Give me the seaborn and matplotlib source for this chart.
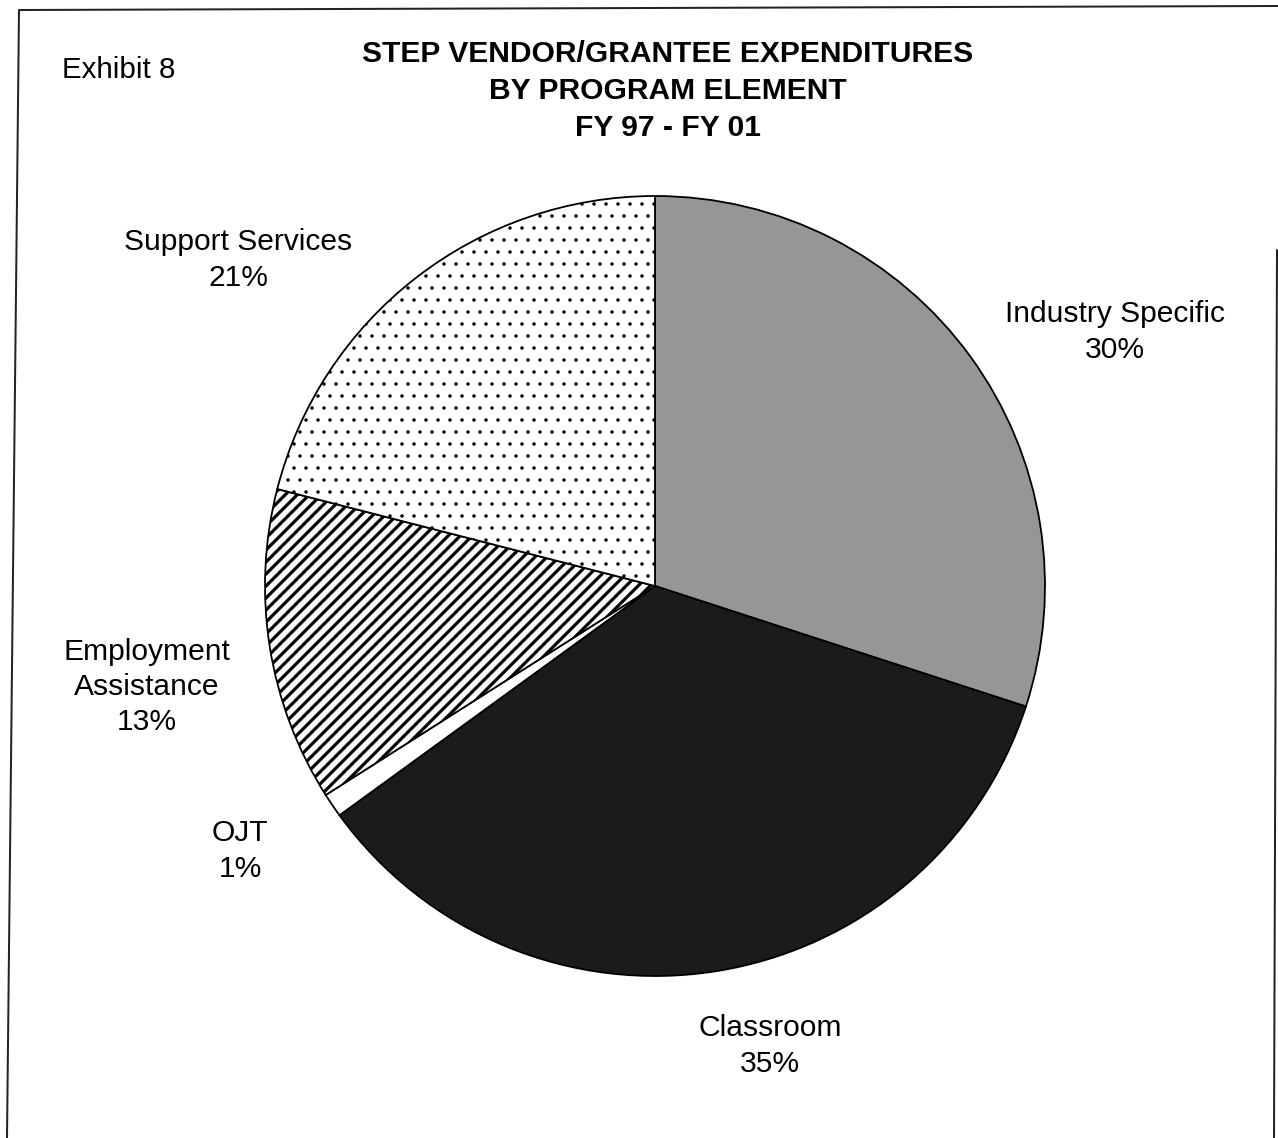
import matplotlib
matplotlib.use("Agg")
import matplotlib.pyplot as plt
import seaborn as sns

# slice data, clockwise from 12 o'clock
labels = ['Industry Specific', 'Classroom', 'OJT', 'Employment\nAssistance', 'Support Services']
shares = [30, 35, 1, 13, 21]
fills = ['#969696', '#1b1b1b', 'white', 'white', 'white']
hatches = [None, None, None, '//', '.']

title_lines = ['STEP VENDOR/GRANTEE EXPENDITURES', 'BY PROGRAM ELEMENT', 'FY 97 - FY 01']

W, H = 1278, 1138
DPI = 72

sns.set_style("white")
plt.rcParams['font.family'] = ['Liberation Sans', 'DejaVu Sans']
plt.rcParams['hatch.linewidth'] = 3.2
plt.rcParams['text.color'] = 'black'

fig = plt.figure(figsize=(W / DPI, H / DPI), dpi=DPI)
ax = fig.add_axes([0, 0, 1, 1])

wedges, _ = ax.pie(shares, colors=fills, startangle=90, counterclock=False,
                   center=(655, H - 586), radius=390, frame=True,
                   wedgeprops=dict(edgecolor='black', linewidth=1.8))
for w, h in zip(wedges, hatches):
    if h:
        w.set_hatch(h)
        if h == '.' and hasattr(w, 'set_hatch_linewidth'):
            w.set_hatch_linewidth(1.0)
ax.set_xlim(0, W)
ax.set_ylim(0, H)
ax.set_aspect('equal')
ax.axis('off')

# slice labels (text positions in pixels from the top)
label_pos = [(1115, 332), (770, 1046), (240, 851), (147, 687), (238, 260)]
for lab, s, (x, y) in zip(labels, shares, label_pos):
    ax.text(x, H - y, f'{lab}\n{s}%', ha='center', va='center', fontsize=30,
            linespacing=1.33, color='black')

ax.text(62, H - 70, 'Exhibit 8', ha='left', va='center', fontsize=29.5, color='black')
ax.text(668, H - 91, '\n'.join(title_lines), ha='center', va='center',
        fontsize=30, fontweight='bold', linespacing=1.4, color='black')

# scanned page frame
ax.plot([7, 19, 1278], [0, H - 10, H - 6], color='#222222', lw=2, clip_on=False)
ax.plot([1277, 1274], [H - 250, 0], color='#222222', lw=2, clip_on=False)

fig.savefig('out.png', dpi=DPI)
